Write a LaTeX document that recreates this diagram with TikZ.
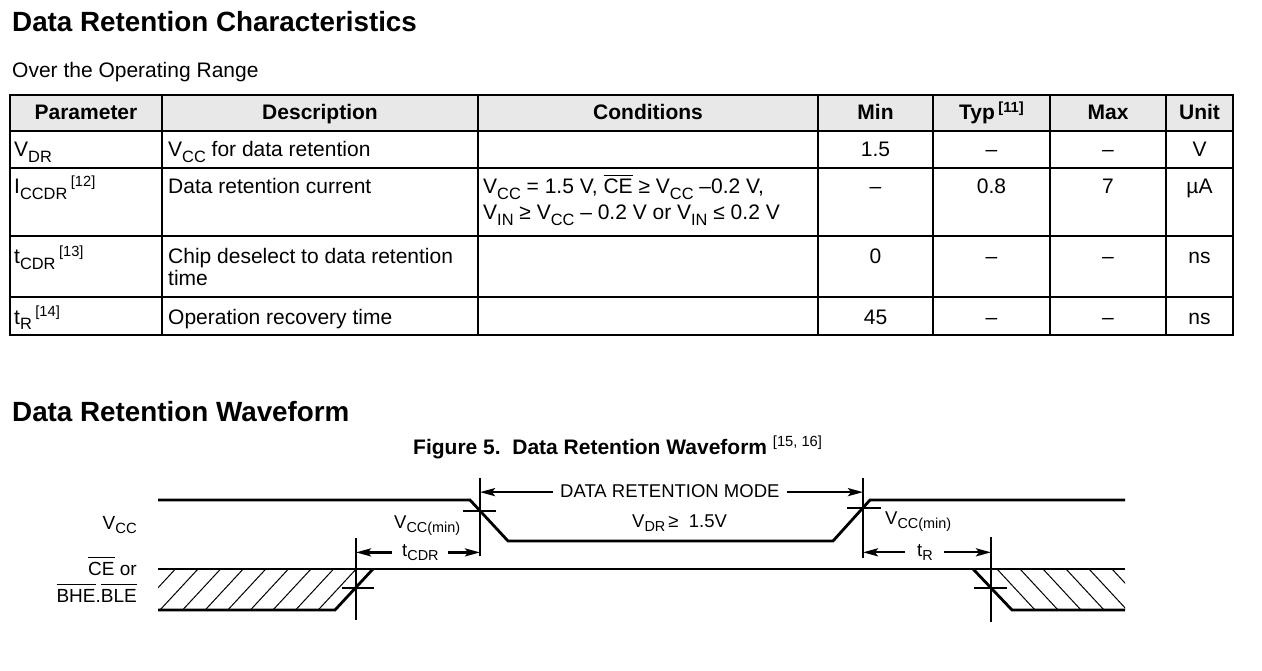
\documentclass[tikz,border=0pt]{standalone}
\usepackage{fontspec}
\usepackage{graphicx}
\setmainfont{Liberation Sans}
\usetikzlibrary{arrows.meta,calc}
\newcommand\fbody{\fontsize{21}{22}\selectfont}
\newcommand\fwave{\fontsize{18.5}{20}\selectfont}
\newcommand\ftitle{\fontsize{27.8}{30}\selectfont\bfseries}
\newcommand\fcap{\fontsize{21}{24}\selectfont\bfseries}
\newcommand\sbx[1]{\raisebox{-0.25em}{\scalebox{0.78}{#1}}}
\newcommand\spx[1]{\raisebox{0.36em}{\scalebox{0.7}{#1}}}
\newcommand\ovl[1]{\setbox0\hbox{#1}\rlap{\rule[\dimexpr\ht0+3.5pt\relax]{\wd0}{1.3pt}}\box0\relax}
\begin{document}
\begin{tikzpicture}[x=1pt,y=-1pt,
  lt/.style={anchor=base west,inner sep=0pt},
  rt/.style={anchor=base east,inner sep=0pt},
  ct/.style={anchor=base,inner sep=0pt},
  tbl/.style={line width=2pt},
  wave/.style={line width=2.8pt},
  tick/.style={line width=1.3pt},
  hatch/.style={line width=1pt},
  arr/.style={line width=2.3pt,-{Stealth[length=15pt,width=8pt,inset=3pt]}}]
\useasboundingbox (0,0) rectangle (1262,671);
% ---------- titles
\node[lt] (title1) at (12,32) {\ftitle Data Retention Characteristics};
\node[lt] (sub1) at (12,78) {\fbody Over the Operating Range};
% ---------- table
\fill[gray!18] (10,95) rectangle (1233,131);
\draw[tbl] (10,95) rectangle (1233,335);
\foreach \y in {131,168,236,297} \draw[tbl] (10,\y) -- (1233,\y);
\foreach \x in {162,478,818,933,1050,1166} \draw[tbl] (\x,95) -- (\x,335);
\begin{scope}[every node/.append style={font=\fbody}]
\node[ct] (hpar) at (86,120) {\bfseries Parameter};
\node[ct] (hdes) at (320,120) {\bfseries Description};
\node[ct] (hcon) at (648,120) {\bfseries Conditions};
\node[ct] (hmin) at (875.5,120) {\bfseries Min};
\node[ct] (htyp) at (991.5,120) {\bfseries Typ\,\spx{[11]}};
\node[ct] (hmax) at (1108,120) {\bfseries Max};
\node[ct] (hunit) at (1199.5,120) {\bfseries Unit};
% row 1
\node[lt] (p1) at (14,157) {V\sbx{DR}};
\node[lt] (d1) at (168,157) {V\sbx{CC} for data retention};
\node[ct] (mn1) at (875.5,157) {1.5};
\node[ct] (ty1) at (991.5,157) {–};
\node[ct] (mx1) at (1108,157) {–};
\node[ct] (u1) at (1199.5,157) {V};
% row 2
\node[lt] (p2) at (14,194) {I\sbx{CCDR}\,\spx{[12]}};
\node[lt] (d2) at (168,194) {Data retention current};
\node[lt] (c2) at (483,194) {\parbox[t]{330pt}{\fontsize{21}{26}\selectfont\raggedright
  V\sbx{CC} = 1.5 V, \ovl{CE} ≥ V\sbx{CC} –0.2 V,\\
  V\sbx{IN} ≥ V\sbx{CC} – 0.2 V or V\sbx{IN} ≤ 0.2 V}};
\node[ct] (mn2) at (875.5,194) {–};
\node[ct] (ty2) at (991.5,194) {0.8};
\node[ct] (mx2) at (1108,194) {7};
\node[ct] (u2) at (1199.5,194) {µA};
% row 3
\node[lt] (p3) at (14,264) {t\sbx{CDR}\,\spx{[13]}};
\node[lt] (d3) at (168,264) {\parbox[t]{305pt}{\fontsize{21}{21.5}\selectfont\raggedright
  Chip deselect to data retention\\time}};
\node[ct] (mn3) at (875.5,264) {0};
\node[ct] (ty3) at (991.5,264) {–};
\node[ct] (mx3) at (1108,264) {–};
\node[ct] (u3) at (1199.5,264) {ns};
% row 4
\node[lt] (p4) at (14,324) {t\sbx{R}\,\spx{[14]}};
\node[lt] (d4) at (168,324) {Operation recovery time};
\node[ct] (mn4) at (875.5,324) {45};
\node[ct] (ty4) at (991.5,324) {–};
\node[ct] (mx4) at (1108,324) {–};
\node[ct] (u4) at (1199.5,324) {ns};
\end{scope}
% ---------- waveform titles
\node[lt] (title2) at (12,421) {\ftitle Data Retention Waveform};
\node[lt] (cap) at (413,454) {\fcap Figure 5.\ \ Data Retention Waveform \mdseries\spx{[15, 16]}};
% ---------- hatching
\begin{scope}
\clip (158,569) -- (373,569) -- (335,610) -- (158,610) -- cycle;
\foreach \x in {114.8,137.4,...,400} \draw[hatch] (\x,610) -- ++(38,-41);
\end{scope}
\begin{scope}
\clip (973,569) -- (1125,569) -- (1125,610) -- (1012,610) -- cycle;
\foreach \x in {951,974,...,1140} \draw[hatch] (\x,569) -- ++(38,41);
\end{scope}
% ---------- waveforms
\draw[wave,line join=miter] (158,500) -- (470,500) -- (508,541) -- (833,541) -- (870,500) -- (1125,500);
\draw[wave] (158,569) -- (1125,569);
\draw[wave,line join=miter] (158,610) -- (335,610) -- (373,569);
\draw[wave,line join=miter] (973,569) -- (1012,610) -- (1125,610);
% ---------- ticks
\coordinate (v1) at (480,478);
\coordinate (v2) at (863,478);
\coordinate (v3) at (356,538);
\coordinate (v4) at (991,537);
\draw[tick] (v1) -- (480,556);  \draw[tick] (463,511) -- (496,511);
\draw[tick] (v2) -- (863,558);  \draw[tick] (847,508) -- (881,508);
\draw[tick] (v3) -- (356,620);  \draw[tick] (342,588) -- (374,588);
\draw[tick] (v4) -- (991,622);  \draw[tick] (974,588) -- (1007,588);
% ---------- labels
\begin{scope}[every node/.append style={font=\fwave}]
\node[rt] (lvcc) at (137,529) {\fontsize{19}{20}\selectfont V\sbx{CC}};
\node[rt] (lce) at (137,575) {\fontsize{19}{20}\selectfont\ovl{CE} or};
\node[rt] (lbhe) at (137,602) {\fontsize{19}{20}\selectfont\ovl{BHE}.\ovl{BLE}};
\node[lt] (vmin1) at (394,528) {V\sbx{CC(min)}};
\node[lt] (vmin2) at (885,524) {V\sbx{CC(min)}};
\node[lt] (vdr) at (632,527) {V\sbx{DR}\,≥\ \ 1.5V};
\node[lt] (dmode) at (560,497) {DATA RETENTION MODE};
\node[lt] (tcdr) at (402,556) {t\sbx{CDR}};
\node[lt] (tr) at (917,556) {t\sbx{R}};
\end{scope}
% ---------- arrows
\draw[arr] ($(dmode.west)+(-7,1.5)$) -- ($(dmode.west -| v1)+(0,1.5)$);
\draw[arr] ($(dmode.east)+(7,1.5)$) -- ($(dmode.east -| v2)+(0,1.5)$);
\draw[arr] ($(tcdr.west)+(-10,0)$) -- (tcdr.west -| v3);
\draw[arr] ($(tcdr.east)+(9,0)$) -- (tcdr.east -| v1);
\draw[arr] ($(tr.west)+(-12,0)$) -- (tr.west -| v2);
\draw[arr] ($(tr.east)+(11,0)$) -- (tr.east -| v4);
\end{tikzpicture}
\end{document}
